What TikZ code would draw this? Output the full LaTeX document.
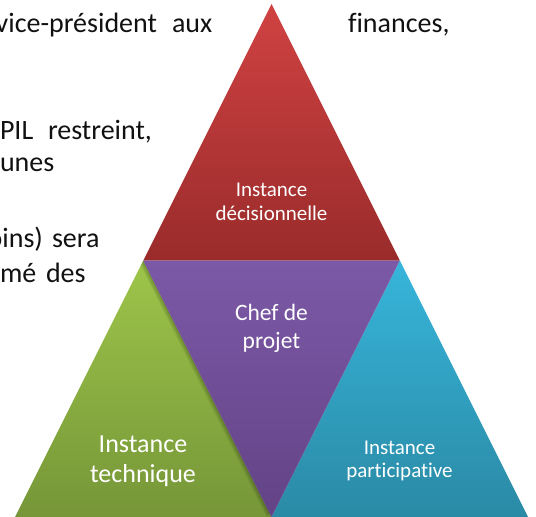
\documentclass[tikz,border=0pt]{standalone}
\usepackage{fontspec}
\setmainfont[Ligatures={NoCommon}]{Carlito}
\usetikzlibrary{calc}

\definecolor{redTop}{HTML}{D04242}
\definecolor{redBot}{HTML}{9A2B2B}
\definecolor{purTop}{HTML}{7C59A7}
\definecolor{purBot}{HTML}{634386}
\definecolor{grnTop}{HTML}{9EC54A}
\definecolor{grnBot}{HTML}{769638}
\definecolor{cyaTop}{HTML}{37B5DA}
\definecolor{cyaBot}{HTML}{2A8AA5}
\definecolor{bodyText}{HTML}{111111}

\tikzset{
  bodyword/.style={inner sep=0pt, outer sep=0pt, text=bodyText,
    font=\fontsize{28}{34}\selectfont},
  label/.style={inner sep=0pt, outer sep=0pt, text=white, anchor=base},
  smallLabel/.style={label, font=\fontsize{21}{25}\selectfont},
  midLabel/.style={label, font=\fontsize{23.5}{28}\selectfont},
  bigLabel/.style={label, font=\fontsize{26}{30}\selectfont},
}

\begin{document}
\begin{tikzpicture}[x=1pt, y=-1pt]
\useasboundingbox (0,0) rectangle (536,517);

% surrounding paragraph text, partly hidden by the pyramid
\node[bodyword, anchor=base east] (w1) at (157,32.5) {vice-président};
\node[bodyword, anchor=base west] (w2) at (172,32.5) {aux};
\node[bodyword, anchor=base west] (w3) at (348,32.5) {finances,};
\node[bodyword, anchor=base west] (w4) at (0,139.3) {PIL};
\node[bodyword, anchor=base west] (w5) at (48,139.3) {restreint,};
\node[bodyword, anchor=base west] (w6) at (0,171) {unes};
\node[bodyword, anchor=base east] (w7) at (43,247) {oins)};
\node[bodyword, anchor=base west] (w8) at (52,247) {sera};
\node[bodyword, anchor=base west] (w9) at (0,282) {mé};
\node[bodyword, anchor=base west] (w10) at (46,282) {des};

% pyramid corners
\coordinate (A)  at (271.5,4);
\coordinate (ML) at (143.25,260.5);
\coordinate (MR) at (399.75,260.5);
\coordinate (L)  at (15,517);
\coordinate (B)  at (271.5,517);
\coordinate (R)  at (528,517);

% four triangles
\shade[top color=redTop, bottom color=redBot] (A) -- (ML) -- (MR) -- cycle;
\shade[top color=grnTop, bottom color=grnBot] (ML) -- (L) -- (B) -- cycle;
\shade[top color=cyaTop, bottom color=cyaBot] (MR) -- (B) -- (R) -- cycle;
\shade[top color=purTop, bottom color=purBot] (ML) -- (MR) -- (B) -- cycle;

% soft shadow of the middle triangle on the left one
\begin{scope}
  \clip (ML) -- (L) -- (B) -- cycle;
  \foreach \d in {1,2,3,4,5}{
    \fill[black, opacity=0.05]
      ($(ML)+(-\d,0)$) -- ($(MR)+(-\d,0)$) -- ($(B)+(-\d,0)$) -- cycle;
  }
\end{scope}

% labels
\node[smallLabel] (d1) at (271.5,196) {Instance};
\node[smallLabel] (d2) at (271.5,220) {décisionnelle};
\node[midLabel]   (c1) at (271.5,320.5) {Chef de};
\node[midLabel]   (c2) at (271.5,348) {projet};
\node[bigLabel]   (t1) at (143,452) {Instance};
\node[bigLabel]   (t2) at (143,482) {technique};
\node[smallLabel] (p1) at (399.5,454) {Instance};
\node[smallLabel] (p2) at (399.5,477) {participative};
\end{tikzpicture}
\end{document}
